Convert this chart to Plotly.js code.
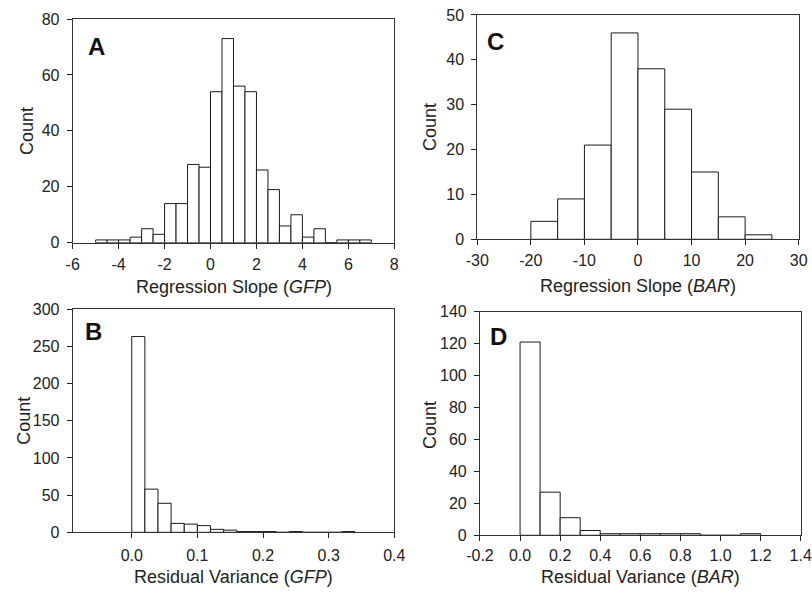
<!DOCTYPE html>
<html>
<head>
<meta charset="utf-8">
<script src="https://cdn.plot.ly/plotly-3.0.1.min.js"></script>
<style>html,body{margin:0;padding:0;background:#fff;}#chart{width:812px;height:592px;}</style>
</head>
<body>
<div id="chart"></div>
<script>
// Panel A: regression slope (GFP), bin width 0.5
const aBinStart = [-5,-4.5,-4,-3.5,-3,-2.5,-2,-1.5,-1,-0.5,0,0.5,1,1.5,2,2.5,3,3.5,4,4.5,5,5.5,6,6.5];
const aCounts   = [1,1,1,2,5,3,14,14,28,27,54,73,56,54,26,19,6,10,2,5,0,1,1,1];
const aBinWidth = 0.5;
const aXTicks = [-6,-4,-2,0,2,4,6,8];
const aXTickText = ['-6','-4','-2','0','2','4','6','8'];
const aYTicks = [0,20,40,60,80];

// Panel B: residual variance (GFP), bin width 0.02
const bBinStart = [0,0.02,0.04,0.06,0.08,0.10,0.12,0.14,0.16,0.18,0.20,0.22,0.24,0.26,0.28,0.30,0.32];
const bCounts   = [263,58,39,12,11,9,4,3,1,1,1,0,1,0,0,0,1];
const bBinWidth = 0.02;
const bXTicks = [0,0.1,0.2,0.3,0.4];
const bXTickText = ['0.0','0.1','0.2','0.3','0.4'];
const bYTicks = [0,50,100,150,200,250,300];

// Panel C: regression slope (BAR), bin width 5
const cBinStart = [-20,-15,-10,-5,0,5,10,15,20];
const cCounts   = [4,9,21,46,38,29,15,5,1];
const cBinWidth = 5;
const cXTicks = [-30,-20,-10,0,10,20,30];
const cXTickText = ['-30','-20','-10','0','10','20','30'];
const cYTicks = [0,10,20,30,40,50];

// Panel D: residual variance (BAR), bin width 0.1
const dBinStart = [0,0.1,0.2,0.3,0.4,0.5,0.6,0.7,0.8,0.9,1.0,1.1];
const dCounts   = [121,27,11,3,1,1,1,1,1,0,0,1];
const dBinWidth = 0.1;
const dXTicks = [-0.2,0,0.2,0.4,0.6,0.8,1.0,1.2,1.4];
const dXTickText = ['-0.2','0.0','0.2','0.4','0.6','0.8','1.0','1.2','1.4'];
const dYTicks = [0,20,40,60,80,100,120,140];

const FONT = 'Liberation Sans, Arial, Helvetica, sans-serif';
const TXT = '#222';

function barTrace(xs, ys, w, xa, ya) {
  return {
    type: 'bar', x: xs, y: ys, width: w, offset: 0,
    xaxis: xa, yaxis: ya,
    marker: {color: '#ffffff', line: {color: '#1a1a1a', width: 1}},
    hoverinfo: 'x+y', showlegend: false
  };
}

function xAxis(domain, range, tv, tt, anchor, standoff) {
  return {
    domain: domain, range: range, anchor: anchor,
    tickmode: 'array', tickvals: tv, ticktext: tt,
    ticks: 'outside', ticklen: 5, tickwidth: 1, tickcolor: '#222',
    showline: true, linecolor: '#333', linewidth: 1, mirror: true,
    showgrid: false, zeroline: false, fixedrange: true,
    tickfont: {family: FONT, size: 16, color: TXT},
    ticklabelstandoff: standoff
  };
}
function yAxis(domain, range, tv, anchor) {
  return {
    domain: domain, range: range, anchor: anchor,
    tickmode: 'array', tickvals: tv, ticktext: tv.map(String),
    ticks: 'outside', ticklen: 5, tickwidth: 1, tickcolor: '#222',
    showline: true, linecolor: '#333', linewidth: 1, mirror: true,
    showgrid: false, zeroline: false, fixedrange: true,
    tickfont: {family: FONT, size: 16, color: TXT},
    ticklabelstandoff: 4
  };
}

const data = [
  barTrace(aBinStart, aCounts, aBinWidth, 'x', 'y'),
  barTrace(bBinStart, bCounts, bBinWidth, 'x2', 'y2'),
  barTrace(cBinStart, cCounts, cBinWidth, 'x3', 'y3'),
  barTrace(dBinStart, dCounts, dBinWidth, 'x4', 'y4')
];

function label(t, x, y) {
  return {text: '<b>' + t + '</b>', xref: 'paper', yref: 'paper', x: x, y: y,
    xanchor: 'left', yanchor: 'top', showarrow: false,
    font: {family: FONT, size: 24, color: '#111'}};
}
function title(t, x, y, rot) {
  return {text: t, xref: 'paper', yref: 'paper', x: x, y: y,
    xanchor: 'center', yanchor: 'middle', showarrow: false,
    textangle: rot || 0,
    font: {family: FONT, size: 18, color: TXT}};
}

const layout = {
  width: 812, height: 592,
  margin: {l: 0, r: 0, t: 0, b: 0},
  paper_bgcolor: '#fff', plot_bgcolor: '#fff',
  bargap: 0,
  xaxis:  xAxis([0.0895, 0.4856], [-6, 8], aXTicks, aXTickText, 'y', 2),
  yaxis:  yAxis([0.590, 0.9679], [0, 80], aYTicks, 'x'),
  xaxis2: xAxis([0.0895, 0.4856], [-0.09, 0.4], bXTicks, bXTickText, 'y2', 3),
  yaxis2: yAxis([0.1008, 0.478], [0, 300], bYTicks, 'x2'),
  xaxis3: xAxis([0.5878, 0.9836], [-30, 30], cXTicks, cXTickText, 'y3', 2),
  yaxis3: yAxis([0.5958, 0.9747], [0, 50], cYTicks, 'x3'),
  xaxis4: xAxis([0.5911, 0.9861], [-0.2, 1.4], dXTicks, dXTickText, 'y4', 1),
  yaxis4: yAxis([0.0958, 0.4735], [0, 140], dYTicks, 'x4'),
  annotations: [
    label('A', 86/812, 1 - 31/592),
    label('B', 83/812, 1 - 316/592),
    label('C', 485/812, 1 - 26/592),
    label('D', 488/812, 1 - 321/592),
    title('Regression Slope (<i>GFP</i>)', 233.5/812, 1 - 287/592),
    title('Residual Variance (<i>GFP</i>)', 233.5/812, 1 - 577/592),
    title('Regression Slope (<i>BAR</i>)', 638/812, 1 - 286/592),
    title('Residual Variance (<i>BAR</i>)', 640.3/812, 1 - 577/592),
    title('Count', 27/812, 1 - 131/592, -90),
    title('Count', 24/812, 1 - 420.7/592, -90),
    title('Count', 430/812, 1 - 127/592, -90),
    title('Count', 430/812, 1 - 425/592, -90)
  ]
};

Plotly.newPlot('chart', data, layout, {staticPlot: true, displayModeBar: false});
</script>
</body>
</html>
